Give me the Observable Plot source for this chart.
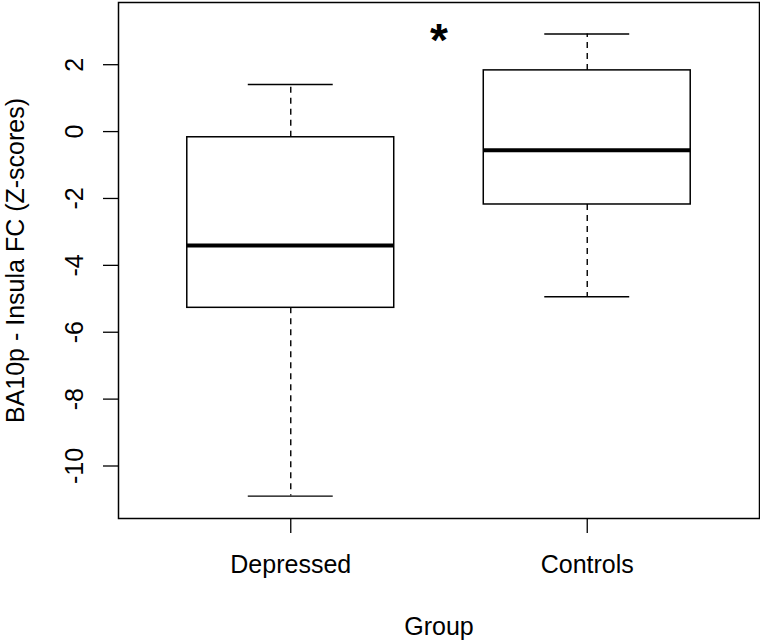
<!DOCTYPE html>
<html><head><meta charset="utf-8">
<script src="https://cdn.jsdelivr.net/npm/d3@7"></script>
<script src="https://cdn.jsdelivr.net/npm/@observablehq/plot@0.6"></script>
<style>body{margin:0;background:#fff}</style>
</head><body><div id="chart"></div>
<script>
const groups = ["Depressed", "Controls"];
const whiskerLow = [-10.90, -4.94];
const q1 = [-5.27, -2.18];
const median = [-3.41, -0.56];
const q3 = [-0.17, 1.83];
const whiskerHigh = [1.41, 2.92];
const yTicks = [-10, -8, -6, -4, -2, 0, 2];
const yLabel = "BA10p - Insula FC (Z-scores)";
const xLabel = "Group";
const signif = "*";
const signifY = 3.0;

const stats = groups.map((g, i) => ({group: g, lo: whiskerLow[i], q1: q1[i], med: median[i], q3: q3[i], hi: whiskerHigh[i]}));

const font = "'Liberation Sans', Arial, Helvetica, sans-serif";
const chart = Plot.plot({
  width: 760, height: 642,
  marginLeft: 118, marginRight: 1, marginTop: 2, marginBottom: 124,
  style: {fontFamily: font, fontSize: "25px", color: "black", background: "white"},
  x: {type: "band", domain: groups, paddingInner: 0.302, paddingOuter: 0.232, round: false, axis: null},
  y: {domain: [-11.57, 3.86], axis: null},
  marks: [
    Plot.ruleX(stats, {x: "group", y1: "q3", y2: "hi", stroke: "black", strokeWidth: 1.4, strokeDasharray: "6,5"}),
    Plot.ruleX(stats, {x: "group", y1: "q1", y2: "lo", stroke: "black", strokeWidth: 1.4, strokeDasharray: "6,5"}),
    Plot.tickY(stats, {x: "group", y: "hi", insetLeft: 61, insetRight: 61, stroke: "black", strokeWidth: 1.4}),
    Plot.tickY(stats, {x: "group", y: "lo", insetLeft: 61, insetRight: 61, stroke: "black", strokeWidth: 1.4}),
    Plot.barY(stats, {x: "group", y1: "q1", y2: "q3", fill: "white", stroke: "black", strokeWidth: 1.5}),
    Plot.tickY(stats, {x: "group", y: "med", stroke: "black", strokeWidth: 4}),
    Plot.frame({stroke: "black", strokeWidth: 1.5}),
    Plot.axisY({ticks: yTicks, tickFormat: d => String(d), tickSize: 15, tickPadding: 21, tickRotate: -90, textAnchor: "middle", lineAnchor: "bottom", fontSize: 25, label: null, stroke: "black", strokeWidth: 1.3}),
    Plot.axisX({tickSize: 15, tickPadding: 22, fontSize: 25, label: null, stroke: "black", strokeWidth: 1.3}),
    Plot.text([yLabel], {text: d => d, frameAnchor: "left", dx: -95, rotate: -90, lineAnchor: "bottom", textAnchor: "middle", fontSize: 25, fill: "black"}),
    Plot.text([xLabel], {text: d => d, frameAnchor: "bottom", dy: 116, lineAnchor: "bottom", fontSize: 25, fill: "black"}),
    Plot.text([signifY], {y: d => d, text: () => signif, fontSize: 46, fontWeight: "bold", dy: 10, fill: "black"})
  ]
});
document.getElementById("chart").appendChild(chart);
</script>
</body></html>
